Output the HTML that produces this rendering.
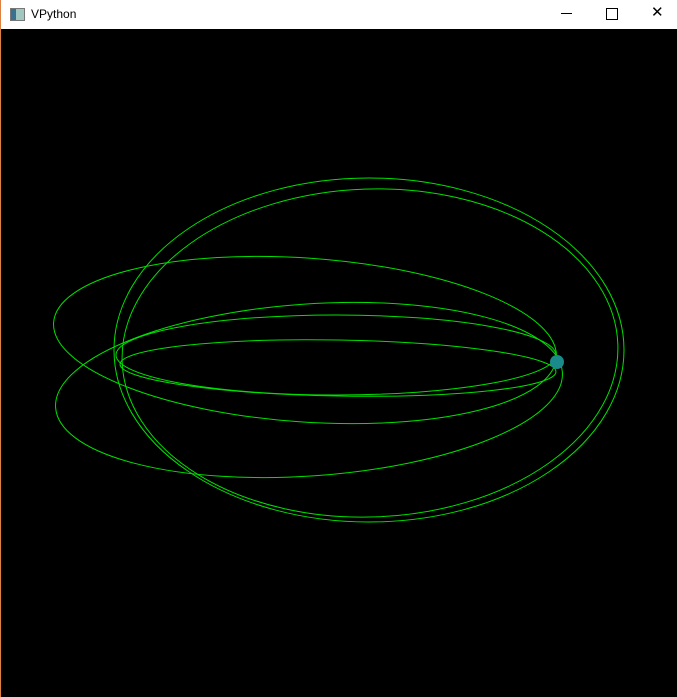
<!DOCTYPE html>
<html><head><meta charset="utf-8"><style>
html,body{margin:0;padding:0;width:677px;height:697px;overflow:hidden;background:#000}
#win{position:absolute;left:0;top:0;width:677px;height:697px;border-left:1px solid #e08040;box-sizing:border-box}
#bar{position:absolute;left:0;top:0;width:677px;height:29px;background:#fff;font-family:"Liberation Sans",sans-serif;font-size:12px}
#title{position:absolute;left:30px;top:7px;color:#000}
.ic{position:absolute;top:4px;font-size:15px;color:#000}
</style></head><body>
<div id="win">
<div id="bar">
 <div style="position:absolute;left:9px;top:8px;width:13px;height:11px;background:linear-gradient(90deg,#3a7090 40%,#a0c8c0 40%);border:1px solid #777"></div>
 <span id="title">VPython</span>
 <div class="ic" style="left:560px;top:13px;width:11px;height:1px;background:#000"></div>
 <div class="ic" style="left:605px;top:8px;width:10px;height:10px;border:1px solid #000"></div>
 <div class="ic" style="left:650px;top:3px">✕</div>
</div>
<svg id="scene" width="677" height="668" style="position:absolute;left:0;top:29px">
<g id="trails" transform="translate(0,-29)"></g>
</svg>
</div>
<script>
const cxs=[368,369,304,308,335,337];
const cys=[350,353,340,390,355,368];
const rxs=[255,248,252,254,220,218];
const rys=[172,164,82,86,40,28];
const rots=[0,-2,4,-4,0,1];
const g=document.getElementById('trails');
const ns='http://www.w3.org/2000/svg';
for(let i=0;i<cxs.length;i++){
 const e=document.createElementNS(ns,'ellipse');
 
 
 e.setAttribute('cx',cxs[i]);e.setAttribute('cy',cys[i]);
 e.setAttribute('rx',rxs[i]);e.setAttribute('ry',rys[i]);
 e.setAttribute('transform','rotate('+rots[i]+' '+cxs[i]+' '+cys[i]+')');
 e.setAttribute('fill','none');e.setAttribute('stroke','#00e000');e.setAttribute('stroke-width','1');
 g.appendChild(e);
}
const b=document.createElementNS(ns,'circle');


b.setAttribute('cx',556);b.setAttribute('cy',362);b.setAttribute('r',7);b.setAttribute('fill','#1a8a8a');
g.appendChild(b);
</script>
</body></html>
